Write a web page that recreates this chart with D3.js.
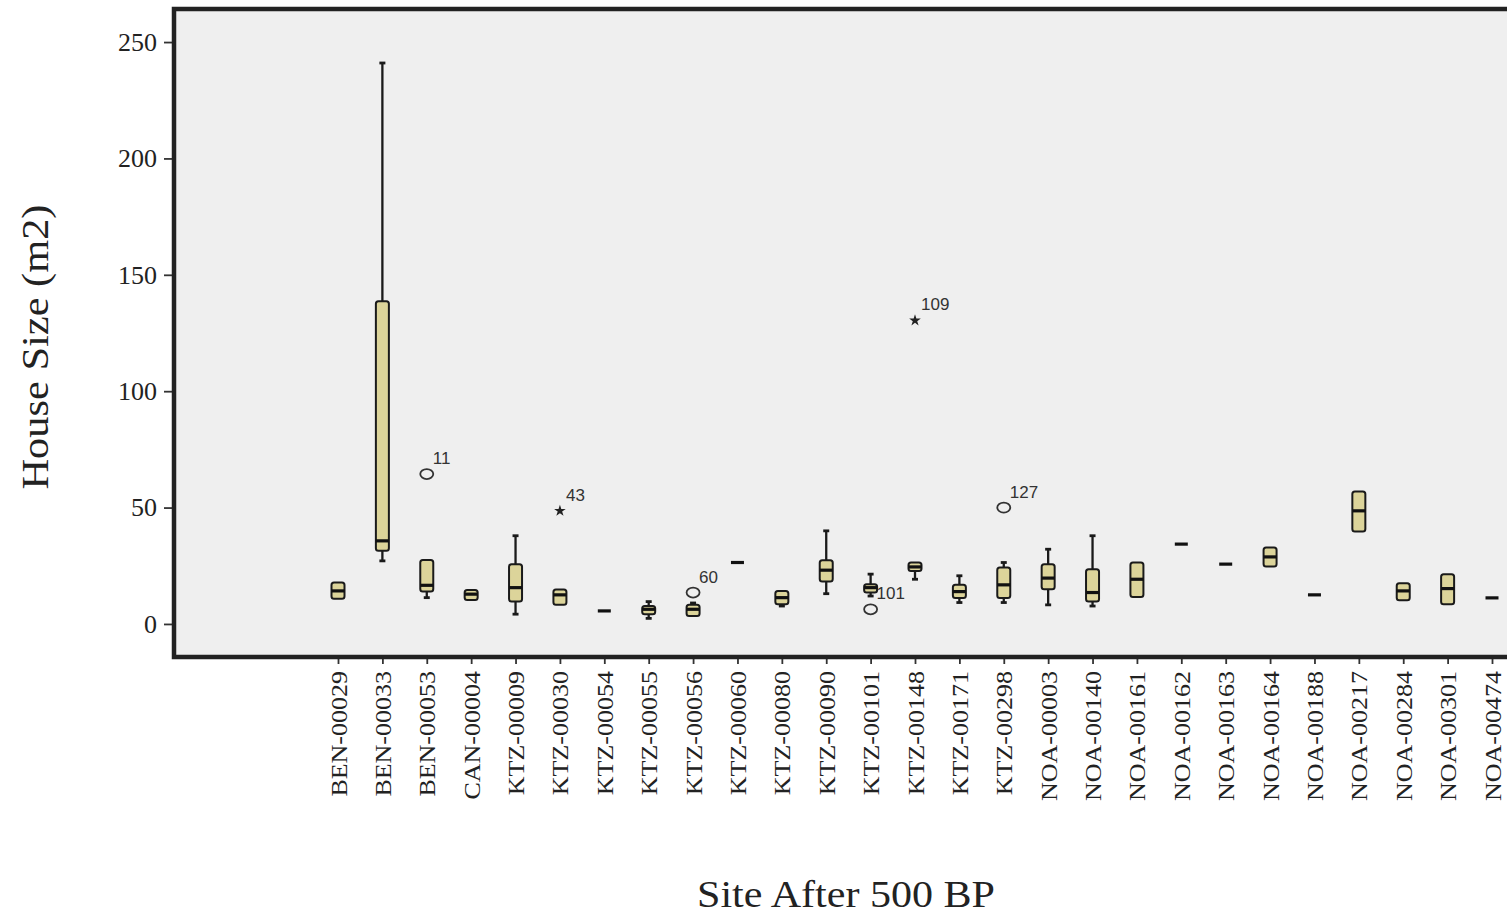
<!DOCTYPE html>
<html>
<head>
<meta charset="utf-8">
<script src="https://cdn.jsdelivr.net/npm/d3@7"></script>
<style>
  body { margin: 0; background: #fff; }
  svg { display: block; }
</style>
</head>
<body>
<div id="chart"></div>
<script>
// box plot data (m2)
const sites = ['BEN-00029', 'BEN-00033', 'BEN-00053', 'CAN-00004', 'KTZ-00009', 'KTZ-00030',
  'KTZ-00054', 'KTZ-00055', 'KTZ-00056', 'KTZ-00060', 'KTZ-00080', 'KTZ-00090', 'KTZ-00101',
  'KTZ-00148', 'KTZ-00171', 'KTZ-00298', 'NOA-00003', 'NOA-00140', 'NOA-00161', 'NOA-00162',
  'NOA-00163', 'NOA-00164', 'NOA-00188', 'NOA-00217', 'NOA-00284', 'NOA-00301', 'NOA-00474'];
const whiskerLow = [10.8, 27.1, 11.3, 10.3, 4.2, 8.2, 5.6, 2.4, 3.4, 26.4, 7.7, 13.0, 12.0,
  19.2, 9.2, 9.2, 8.2, 7.7, 11.6, 34.3, 25.7, 24.7, 12.5, 39.7, 10.2, 8.5, 11.2];
const q1 = [10.8, 31.4, 13.9, 10.3, 9.6, 8.2, 5.6, 4.2, 3.4, 26.4, 8.5, 18.2, 13.5,
  22.8, 11.1, 11.1, 14.9, 9.6, 11.6, 34.3, 25.7, 24.7, 12.5, 39.7, 10.2, 8.5, 11.2];
const median = [14.2, 35.7, 16.6, 12.8, 15.6, 12.5, 5.6, 6.3, 6.3, 26.4, 11.3, 23.1, 15.6,
  24.5, 13.9, 16.8, 19.7, 13.5, 19.2, 34.3, 25.7, 28.8, 12.5, 48.6, 14.2, 15.2, 11.2];
const q3 = [17.8, 138.6, 27.5, 14.6, 25.7, 14.8, 5.6, 7.7, 8.2, 26.4, 14.2, 27.4, 17.1,
  26.4, 16.8, 24.2, 25.7, 23.5, 26.4, 34.3, 25.7, 32.8, 12.5, 56.9, 17.5, 21.4, 11.2];
const whiskerHigh = [17.8, 241, 27.5, 14.6, 37.9, 14.8, 5.6, 9.6, 9.0, 26.4, 14.2, 40.0, 21.4,
  26.4, 20.7, 26.4, 32.1, 37.9, 26.4, 34.3, 25.7, 32.8, 12.5, 56.9, 17.5, 21.4, 11.2];

// outliers: o = circle, * = extreme
const outlierSites = ['BEN-00053', 'KTZ-00030', 'KTZ-00056', 'KTZ-00101', 'KTZ-00148', 'KTZ-00298'];
const outlierValues = [64.4, 48.6, 13.5, 6.3, 130.4, 50.0];
const outlierCases = ['11', '43', '60', '101', '109', '127'];
const outlierKinds = ['o', '*', 'o', 'o', '*', 'o'];

const yTicks = [0, 50, 100, 150, 200, 250];

const width = 1507, height = 924;
const frame = { left: 174, top: 9, right: 1530, bottom: 657 };

const svg = d3.select('#chart').append('svg')
  .attr('width', width)
  .attr('height', height);

const x = d3.scalePoint()
  .domain(sites)
  .range([338, 1492]);

const y = d3.scaleLinear()
  .domain([-14.2, 264.2])
  .range([frame.bottom, frame.top]);

// plot background
svg.append('rect')
  .attr('x', frame.left)
  .attr('y', frame.top)
  .attr('width', frame.right - frame.left)
  .attr('height', frame.bottom - frame.top)
  .attr('fill', '#efefef');

const boxes = sites.map((s, i) => ({
  site: s, lo: whiskerLow[i], q1: q1[i], med: median[i], q3: q3[i], hi: whiskerHigh[i]
}));

const boxW = 13, capW = 6;
const g = svg.append('g');

const box = g.selectAll('g.box')
  .data(boxes)
  .enter()
  .append('g')
  .attr('class', 'box')
  .attr('transform', d => `translate(${x(d.site)},0)`);

// whiskers
box.filter(d => d.hi > d.q3).append('line')
  .attr('y1', d => y(d.hi)).attr('y2', d => y(d.q3))
  .attr('stroke', '#1a1a1a').attr('stroke-width', 2.3);
box.filter(d => d.lo < d.q1).append('line')
  .attr('y1', d => y(d.lo)).attr('y2', d => y(d.q1))
  .attr('stroke', '#1a1a1a').attr('stroke-width', 2.3);
box.filter(d => d.hi > d.q3).append('line')
  .attr('x1', -capW / 2).attr('x2', capW / 2)
  .attr('y1', d => y(d.hi)).attr('y2', d => y(d.hi))
  .attr('stroke', '#1a1a1a').attr('stroke-width', 2.8);
box.filter(d => d.lo < d.q1).append('line')
  .attr('x1', -capW / 2).attr('x2', capW / 2)
  .attr('y1', d => y(d.lo)).attr('y2', d => y(d.lo))
  .attr('stroke', '#1a1a1a').attr('stroke-width', 2.8);

// box
box.append('rect')
  .attr('x', -boxW / 2)
  .attr('width', boxW)
  .attr('y', d => y(d.q3))
  .attr('height', d => y(d.q1) - y(d.q3))
  .attr('rx', 2.5)
  .attr('fill', '#dcd49a')
  .attr('stroke', '#1a1a1a')
  .attr('stroke-width', 2);

// median
box.append('line')
  .attr('x1', -boxW / 2).attr('x2', boxW / 2)
  .attr('y1', d => y(d.med)).attr('y2', d => y(d.med))
  .attr('stroke', '#111')
  .attr('stroke-width', 3.2);

// outliers
const outliers = outlierSites.map((s, i) => ({
  site: s, value: outlierValues[i], label: outlierCases[i], kind: outlierKinds[i]
}));

const og = g.selectAll('g.outlier')
  .data(outliers)
  .enter()
  .append('g')
  .attr('class', 'outlier')
  .attr('transform', d => `translate(${x(d.site)},${y(d.value)})`);

og.filter(d => d.kind === 'o').append('ellipse')
  .attr('rx', 6.5).attr('ry', 5)
  .attr('fill', 'none')
  .attr('stroke', '#333')
  .attr('stroke-width', 1.8);

og.filter(d => d.kind === '*').append('path')
  .attr('d', d3.symbol().type(d3.symbolStar).size(42))
  .attr('fill', '#222');

og.append('text')
  .attr('x', 6)
  .attr('y', -10)
  .style('font-family', '"Liberation Sans", Arial, sans-serif')
  .style('font-size', '17px')
  .attr('fill', '#333')
  .text(d => d.label);

// axes
const serif = '"Liberation Serif", "Times New Roman", serif';

const yAxis = svg.append('g')
  .attr('transform', `translate(${frame.left - 1},0)`)
  .call(d3.axisLeft(y).tickValues(yTicks).tickSize(9).tickPadding(7).tickFormat(d3.format('d')));
yAxis.select('.domain').remove();
yAxis.selectAll('line').attr('stroke', '#333').attr('stroke-width', 1.8);
yAxis.selectAll('text')
  .style('font-family', serif)
  .style('font-size', '26px')
  .attr('fill', '#222');

const xAxis = svg.append('g')
  .attr('transform', `translate(0,${frame.bottom})`)
  .call(d3.axisBottom(x).tickSize(7).tickPadding(0));
xAxis.select('.domain').remove();
xAxis.selectAll('line').attr('stroke', '#333').attr('stroke-width', 1.8);
xAxis.selectAll('text')
  .style('font-family', serif)
  .style('font-size', '23px')
  .attr('fill', '#222')
  .attr('text-anchor', 'end')
  .attr('dy', '0.35em')
  .attr('transform', 'translate(0,14) rotate(-90)')
  .attr('y', 0)
  .attr('x', 0)
  .each(function () {
    const len = this.getComputedTextLength();
    d3.select(this).attr('textLength', len * 1.13).attr('lengthAdjust', 'spacingAndGlyphs');
  });

// frame lines (left, top, bottom)
svg.append('path')
  .attr('d', `M${frame.right},${frame.top}H${frame.left}V${frame.bottom}H${frame.right}`)
  .attr('fill', 'none')
  .attr('stroke', '#222')
  .attr('stroke-width', 4.5);

// axis titles
svg.append('text')
  .attr('transform', 'translate(48,347) rotate(-90)')
  .attr('text-anchor', 'middle')
  .style('font-family', serif)
  .style('font-size', '37px')
  .attr('fill', '#222')
  .attr('textLength', 285)
  .attr('lengthAdjust', 'spacingAndGlyphs')
  .text('House Size (m2)');

svg.append('text')
  .attr('x', 846)
  .attr('y', 907)
  .attr('text-anchor', 'middle')
  .style('font-family', serif)
  .style('font-size', '37px')
  .attr('fill', '#222')
  .attr('textLength', 298)
  .attr('lengthAdjust', 'spacingAndGlyphs')
  .text('Site After 500 BP');
</script>
</body>
</html>
